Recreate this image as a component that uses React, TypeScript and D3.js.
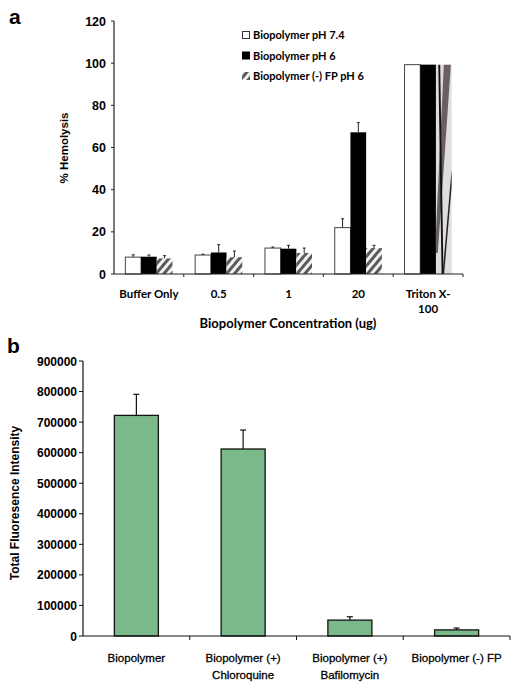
import React from "react";
import * as d3 from "d3";

// Panel a data
const groupsA = ["Buffer Only", "0.5", "1", "20", "Triton X-100"];
const seriesA = ["Biopolymer pH 7.4", "Biopolymer pH 6", "Biopolymer (-) FP pH 6"];
const ph74 = [8, 9, 12.3, 22, 99.3];
const ph74Err = [1.1, 0.4, 0.5, 4.2, 0];
const ph6 = [8.2, 10.2, 12, 67.2, 99.3];
const ph6Err = [0.8, 3.7, 1.6, 4.6, 0];
const fp6 = [7.4, 8, 10, 12.3, 99.3];
const fp6Err = [1.3, 2.9, 2.3, 1.3, 0];
const ticksA = [0, 20, 40, 60, 80, 100, 120];

// Panel b data
const groupsB = ["Biopolymer", "Biopolymer (+)\nChloroquine", "Biopolymer (+)\nBafilomycin", "Biopolymer (-) FP"];
const fluo = [722000, 612000, 52000, 20000];
const fluoErr = [69000, 62000, 11000, 6000];
const ticksB = [0, 100000, 200000, 300000, 400000, 500000, 600000, 700000, 800000, 900000];

const tickFont = "'Liberation Sans', Arial, sans-serif";
const calFont = "Lato, 'Open Sans', sans-serif";

// stretched hatch shapes for the tall bar, in fractions of the bar box
const bigHatch: { pts: number[][]; fill: string }[] = [
  { pts: [[0.5, 0], [0.95, 0], [0.12, 0.9], [0, 0.9], [0, 0.8]], fill: "#6b6060" },
  { pts: [[0.15, 0], [0.27, 0], [0.48, 1], [0.36, 1]], fill: "#111" },
  { pts: [[1, 0.5], [1, 0.58], [0.52, 1], [0.42, 1]], fill: "#222" },
];

export default function App() {
  const xA = d3.scaleBand<string>().domain(groupsA).range([114, 463]);
  const yA = d3.scaleLinear().domain([0, 120]).range([274, 21]);
  const bw = 15.7;
  const seriesVals = [ph74, ph6, fp6];
  const seriesErrs = [ph74Err, ph6Err, fp6Err];
  const fills = ["#ffffff", "#000000", "url(#hatch)"];

  const xB = d3.scaleBand<string>().domain(groupsB).range([83, 510]);
  const yB = d3.scaleLinear().domain([0, 900000]).range([636, 361]);
  const bwB = 44;

  return (
    <svg width={520} height={691} style={{ position: "absolute", left: 0, top: 0, background: "#fff" }}>
      <defs>
        <pattern id="hatch" patternUnits="userSpaceOnUse" width={6} height={6} patternTransform="rotate(40)">
          <rect width={6} height={6} fill="#f2f2f2" />
          <rect width={3} height={6} fill="#5e5a5a" />
        </pattern>
      </defs>

      <text x={9} y={24} fontFamily={tickFont} fontWeight="bold" fontSize={21}>a</text>

      {groupsA.map((g, i) => {
        const cx = (xA(g) as number) + xA.bandwidth() / 2;
        return seriesVals.map((vals, s) => {
          const x0 = cx - 1.5 * bw + s * bw;
          const top = yA(vals[i]);
          const h = yA(0) - top;
          const isTritonHatch = s === 2 && i === groupsA.length - 1;
          const errTop = yA(vals[i] + seriesErrs[s][i]);
          return (
            <g key={g + s}>
              {isTritonHatch ? (
                <g>
                  <rect x={x0} y={top} width={bw} height={h} fill="#dedede" />
                  {bigHatch.map((p, k) => (
                    <polygon key={k} points={p.pts.map(([fx, fy]) => `${x0 + fx * bw},${top + fy * h}`).join(" ")} fill={p.fill} />
                  ))}
                </g>
              ) : (
                <rect x={x0} y={top} width={bw} height={h} fill={fills[s]}
                  stroke={s === 0 ? "#444" : "none"} strokeWidth={1} />
              )}
              {seriesErrs[s][i] > 0 && (
                <g stroke="#222" strokeWidth={1}>
                  <line x1={x0 + bw / 2} x2={x0 + bw / 2} y1={top} y2={errTop} />
                  <line x1={x0 + bw / 2 - 1.5} x2={x0 + bw / 2 + 1.5} y1={errTop} y2={errTop} />
                </g>
              )}
            </g>
          );
        });
      })}

      <line x1={114} x2={114} y1={yA(120)} y2={yA(0)} stroke="#222" strokeWidth={1.2} />
      <line x1={114} x2={463} y1={yA(0)} y2={yA(0)} stroke="#222" strokeWidth={1.2} />
      {ticksA.map((t) => (
        <g key={t}>
          <line x1={111} x2={114} y1={yA(t)} y2={yA(t)} stroke="#222" />
          <text x={106} y={yA(t) + 4.5} textAnchor="end" fontFamily={tickFont} fontWeight="bold" fontSize={12.5}>{t}</text>
        </g>
      ))}
      {groupsA.map((g) => {
        const x = (xA(g) as number) + xA.bandwidth();
        return <line key={g} x1={x} x2={x} y1={yA(0)} y2={yA(0) + 3} stroke="#222" />;
      })}
      {groupsA.map((g) => {
        const cx = (xA(g) as number) + xA.bandwidth() / 2;
        const parts = g === "Triton X-100" ? ["Triton X-", "100"] : [g];
        return (
          <text key={g} x={cx} y={298} textAnchor="middle" fontFamily={calFont} fontWeight="bold" fontSize={11.5}>
            {parts.map((p, k) => (
              <tspan key={k} x={cx} dy={k === 0 ? 0 : 15}>{p}</tspan>
            ))}
          </text>
        );
      })}
      <text x={288} y={328} textAnchor="middle" fontFamily={calFont} fontWeight="bold" fontSize={13}>
        Biopolymer Concentration (ug)
      </text>
      <text transform="translate(68,148) rotate(-90)" textAnchor="middle" fontFamily={tickFont} fontWeight="bold" fontSize={11.5}>
        % Hemolysis
      </text>

      {seriesA.map((s, k) => {
        const y = 35 + k * 20.5;
        return (
          <g key={s}>
            {k === 0 && <rect x={242.5} y={y - 3.5} width={7} height={7} fill="#fff" stroke="#333" />}
            {k === 1 && <rect x={242} y={y - 4} width={8} height={8} fill="#000" />}
            {k === 2 && <rect x={242} y={y - 4} width={8} height={8} fill="url(#hatch)" />}
            <text x={253} y={y + 4} fontFamily={calFont} fontWeight="bold" fontSize={11}>{s}</text>
          </g>
        );
      })}

      <text x={7} y={353} fontFamily={tickFont} fontWeight="bold" fontSize={21}>b</text>

      {groupsB.map((g, i) => {
        const cx = (xB(g) as number) + xB.bandwidth() / 2;
        const top = yB(fluo[i]);
        const errTop = yB(fluo[i] + fluoErr[i]);
        return (
          <g key={g}>
            <line x1={cx} x2={cx} y1={top} y2={errTop} stroke="#111" strokeWidth={1.2} />
            <line x1={cx - 3} x2={cx + 3} y1={errTop} y2={errTop} stroke="#111" strokeWidth={1.2} />
            <rect x={cx - bwB / 2} y={top} width={bwB} height={yB(0) - top} fill="#7bb98a" stroke="#111" strokeWidth={1.3} />
          </g>
        );
      })}

      <line x1={83} x2={83} y1={yB(900000)} y2={yB(0)} stroke="#111" strokeWidth={1.2} />
      <line x1={83} x2={510} y1={yB(0)} y2={yB(0)} stroke="#111" strokeWidth={1.2} />
      {ticksB.map((t) => (
        <g key={t}>
          <line x1={79} x2={83} y1={yB(t)} y2={yB(t)} stroke="#111" />
          <text x={77} y={yB(t) + 4.5} textAnchor="end" fontFamily={tickFont} fontWeight="bold" fontSize={12}>{t}</text>
        </g>
      ))}
      {groupsB.map((g) => {
        const x = (xB(g) as number) + xB.bandwidth();
        return <line key={g} x1={x} x2={x} y1={yB(0)} y2={yB(0) + 4} stroke="#111" />;
      })}
      {groupsB.map((g) => {
        const cx = (xB(g) as number) + xB.bandwidth() / 2;
        const parts = g.split("\n");
        return (
          <text key={g} x={cx} y={662} textAnchor="middle" fontFamily={tickFont} fontSize={11.5} stroke="#000" strokeWidth={0.3}>
            {parts.map((p, k) => (
              <tspan key={k} x={cx} dy={k === 0 ? 0 : 17}>{p}</tspan>
            ))}
          </text>
        );
      })}
      <text transform="translate(19,503) rotate(-90)" textAnchor="middle" fontFamily={tickFont} fontWeight="bold" fontSize={12}>
        Total Fluoresence Intensity
      </text>
    </svg>
  );
}
